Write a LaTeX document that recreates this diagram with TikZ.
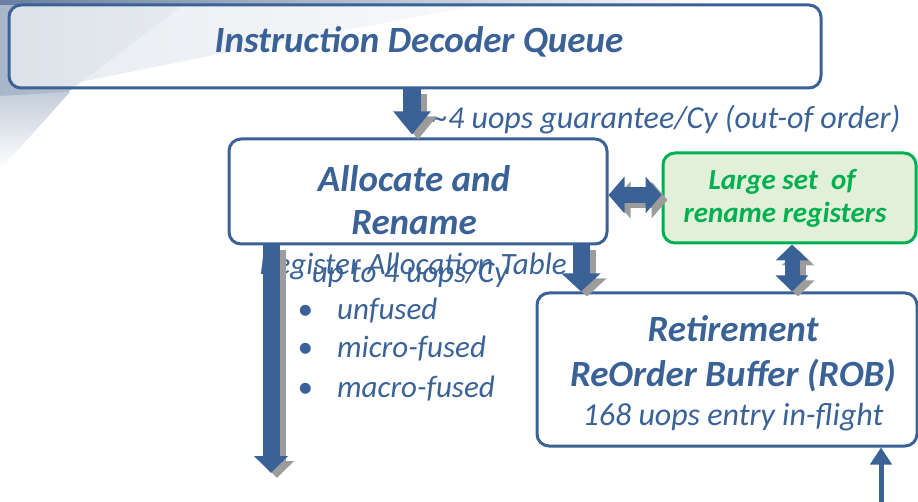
\documentclass[tikz,border=0pt]{standalone}
\usepackage{fontspec}
\setmainfont{Carlito}
\usetikzlibrary{arrows.meta}
\definecolor{blu}{HTML}{3A6296}
\definecolor{grn}{HTML}{00B050}
\definecolor{grnfill}{HTML}{E2F0D9}
\definecolor{shad}{HTML}{9C9C9C}
\definecolor{bgdark}{HTML}{6A7FA0}
\definecolor{bgmid}{HTML}{A9B6C9}
\definecolor{bglight}{HTML}{C3CDDA}
\tikzset{
  box/.style={draw=blu, line width=3pt, rounded corners=12pt, fill=white, fill opacity=0.6, text opacity=1, inner sep=0pt},
  gbox/.style={draw=grn, line width=3pt, rounded corners=12pt, fill=grnfill, inner sep=0pt},
  txt/.style={inner sep=0pt, anchor=base, text=blu},
  shadowcopy/.style={shad, transform canvas={xshift=6pt,yshift=-5pt}},
  arrDA/.style={line width=18pt, -{Triangle[length=23pt,width=36pt]}},
  arrDB/.style={line width=17pt, -{Triangle[length=18pt,width=38pt]}},
  arrDC/.style={line width=17pt, -{Triangle[length=17pt,width=33pt]}},
  arrH/.style={line width=16pt, {Triangle[length=16pt,width=36pt]}-{Triangle[length=16pt,width=36pt]}},
  arrV/.style={line width=15pt, {Triangle[length=16pt,width=32pt]}-{Triangle[length=16pt,width=32pt]}},
  arrT/.style={line width=5pt, -{Triangle[length=17pt,width=21pt]}},
}
\newcommand\fBI[1]{\fontsize{#1}{#1}\selectfont\bfseries\itshape}
\newcommand\fI[1]{\fontsize{#1}{#1}\selectfont\itshape}
\begin{document}
\begin{tikzpicture}[x=1pt,y=-1pt]
\useasboundingbox (0,0) rectangle (918,502);
% background swoosh
\shade[left color=bglight, right color=white!85!bglight] (0,0) -- (560,0) -- (470,7) -- (250,48) -- (0,98) -- cycle;
\shade[left color=bgmid, right color=bglight] (0,0) -- (190,0) -- (68,92) -- (0,104) -- cycle;
\shade[top color=bglight, bottom color=white] (0,96) -- (70,92) -- (0,170) -- cycle;
\shade[left color=bgdark, right color=white] (0,0) rectangle (720,5);

% boxes
\node[box, minimum width=812pt, minimum height=83pt] (dec) at (415,46.5) {};
\node[box, minimum width=378pt, minimum height=105pt] (alloc) at (418,191.5) {};
\node[gbox, minimum width=253pt, minimum height=90pt] (regs) at (789.5,198) {};
\node[box, minimum width=380pt, minimum height=153pt] (rob) at (727,369.5) {};

% texts
\node[txt] (tdec) at (419,53) {\fBI{37}Instruction Decoder Queue};
\node[txt, anchor=base west] (tguar) at (432,129) {\fI{32}\textasciitilde 4 uops guarantee/Cy (out-of order)};
\node[txt] (tal1) at (414,192) {\fBI{37}Allocate and};
\node[txt] (tal2) at (414,235) {\fBI{37}Rename};
\node[txt, text=grn] (tg1) at (782,190) {\fBI{29}Large set\ \ of};
\node[txt, text=grn] (tg2) at (785,223) {\fBI{29}rename registers};
\node[txt] (trat) at (413,275) {\fI{31}Register Allocation Table};
\node[txt] (tup) at (410,283) {\fI{31}up to 4 uops/Cy};
\node[txt] (b1) at (305,320) {\fI{31}•};
\node[txt] (b2) at (305,358) {\fI{31}•};
\node[txt] (b3) at (305,397) {\fI{31}•};
\node[txt, anchor=base west] (u1) at (337,320) {\fI{31}unfused};
\node[txt, anchor=base west] (u2) at (337,358) {\fI{31}micro-fused};
\node[txt, anchor=base west] (u3) at (337,397) {\fI{31}macro-fused};
\node[txt] (r1) at (733,342) {\fBI{37}Retirement};
\node[txt] (r2) at (733,387) {\fBI{37}ReOrder Buffer (ROB)};
\node[txt] (r3) at (733,425) {\fI{32}168 uops entry in-flight};

% coordinates for free ends
\coordinate (leftend) at (271,473);
\coordinate (bottomin) at (881,502);

% arrows: shadows
\draw[arrDA, shadowcopy] (412,0 |- dec.south) -- ([yshift=3pt]412,0 |- alloc.north);
\draw[arrDB, shadowcopy] (581,0 |- alloc.south) -- (581,0 |- rob.north);
\draw[arrDC, shadowcopy] (271,0 |- alloc.south) -- (leftend);
\draw[arrH, shadowcopy] (alloc.east |- 0,195) -- (regs.west |- 0,195);
\draw[arrV, shadowcopy] (792,0 |- regs.south) -- (792,0 |- rob.north);
% arrows
\draw[arrDA, blu] (412,0 |- dec.south) -- ([yshift=3pt]412,0 |- alloc.north);
\draw[arrDB, blu] (581,0 |- alloc.south) -- (581,0 |- rob.north);
\draw[arrDC, blu] (271,0 |- alloc.south) -- (leftend);
\draw[arrH, blu] (alloc.east |- 0,195) -- (regs.west |- 0,195);
\draw[arrV, blu] (792,0 |- regs.south) -- (792,0 |- rob.north);
\draw[arrT, blu] (bottomin) -- (881,0 |- rob.south);
\end{tikzpicture}
\end{document}
